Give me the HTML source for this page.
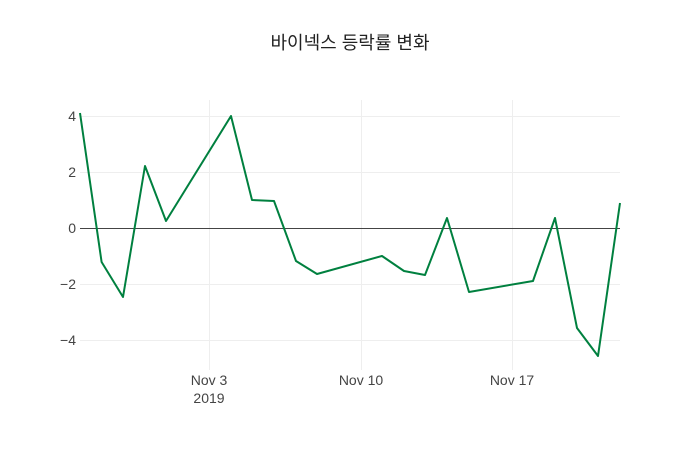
<!DOCTYPE html>
<html><head><meta charset="utf-8"><style>
body{margin:0;background:#fff}
svg{display:block}
text{font-family:"Liberation Sans","Noto Sans CJK KR",sans-serif;fill:#444}
</style></head><body>
<svg width="700" height="450" xmlns="http://www.w3.org/2000/svg">
<rect width="700" height="450" fill="#fff"/>
<g stroke="#eee" stroke-width="1">
<line x1="209.5" y1="100" x2="209.5" y2="370"/>
<line x1="361.5" y1="100" x2="361.5" y2="370"/>
<line x1="512.5" y1="100" x2="512.5" y2="370"/>
<line x1="80" y1="116.5" x2="620" y2="116.5"/>
<line x1="80" y1="172.5" x2="620" y2="172.5"/>
<line x1="80" y1="284.5" x2="620" y2="284.5"/>
<line x1="80" y1="340.5" x2="620" y2="340.5"/>
</g>
<line x1="80" y1="228.5" x2="620" y2="228.5" stroke="#444" stroke-width="1"/>
<polyline fill="none" stroke="#00803f" stroke-width="2" stroke-linejoin="round" points="80,113 101.6,262 123,297 145,166 166,221 231,116 252,200 274,201 296,261 317,274 382,256 404,271 425,275 447,218 469,292 533,281 555,218 577,328 598,356 620,203"/>
<g font-size="14" text-anchor="end">
<text x="76" y="121">4</text>
<text x="76" y="177">2</text>
<text x="76" y="233">0</text>
<text x="76" y="289">−2</text>
<text x="76" y="345">−4</text>
</g>
<g font-size="14" text-anchor="middle">
<text x="209" y="385">Nov 3</text>
<text x="209" y="403">2019</text>
<text x="361" y="385">Nov 10</text>
<text x="512" y="385">Nov 17</text>
</g>
<text x="350" y="49" font-size="18" text-anchor="middle" style="fill:#222">바이넥스 등락률 변화</text>
</svg>
</body></html>
